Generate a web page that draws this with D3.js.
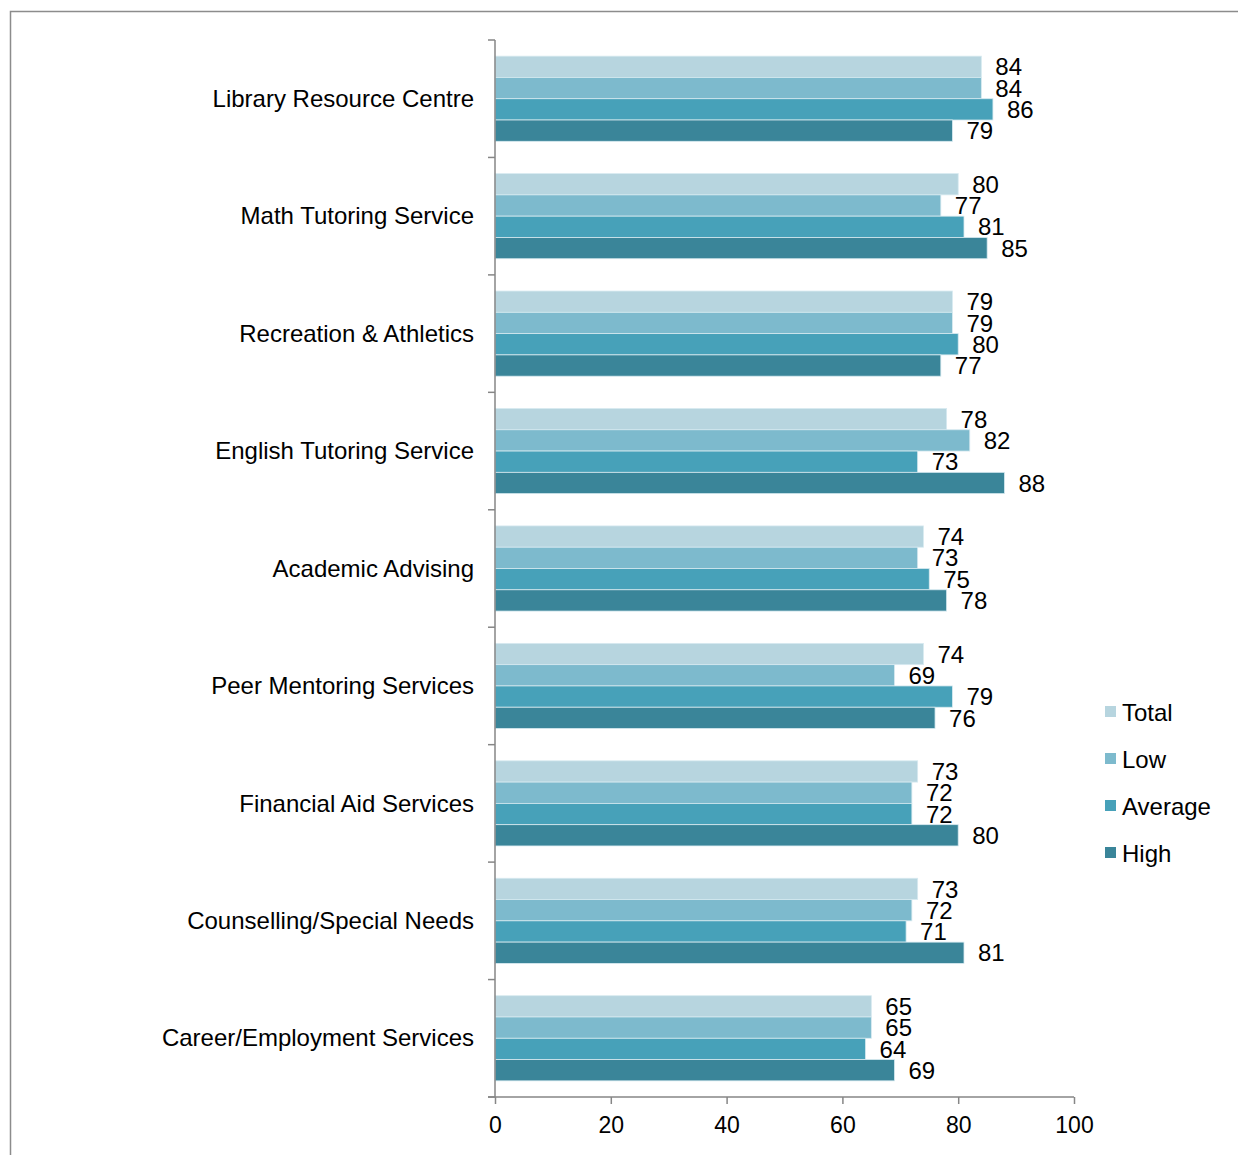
<!DOCTYPE html>
<html>
<head>
<meta charset="utf-8">
<script src="https://cdn.jsdelivr.net/npm/d3@7"></script>
<style>
  html, body { margin: 0; padding: 0; background: #fff; }
  svg { display: block; font-family: "Liberation Sans", Arial, sans-serif; }
</style>
</head>
<body>
<svg id="chart" width="1238" height="1155"></svg>
<script>
// Satisfaction by service, broken out by group
const categories = [
  "Library Resource Centre",
  "Math Tutoring Service",
  "Recreation & Athletics",
  "English Tutoring Service",
  "Academic Advising",
  "Peer Mentoring Services",
  "Financial Aid Services",
  "Counselling/Special Needs",
  "Career/Employment Services"
];
const seriesNames = ["Total", "Low", "Average", "High"];
const totalValues   = [84, 80, 79, 78, 74, 74, 73, 73, 65];
const lowValues     = [84, 77, 79, 82, 73, 69, 72, 72, 65];
const averageValues = [86, 81, 80, 73, 75, 79, 72, 71, 64];
const highValues    = [79, 85, 77, 88, 78, 76, 80, 81, 69];
const xTicks = [0, 20, 40, 60, 80, 100];

const seriesValues = [totalValues, lowValues, averageValues, highValues];
const colors = ["#b7d5df", "#7dbacd", "#47a1b9", "#3a8599"];

const svg = d3.select("#chart");
const plotLeft = 495, plotRight = 1074, plotTop = 40, plotBottom = 1097;
const fontSize = 24;

// outer frame
svg.append("rect")
  .attr("x", 10.5).attr("y", 11.5)
  .attr("width", 1300).attr("height", 1300)
  .attr("fill", "none").attr("stroke", "#8c8c8c").attr("stroke-width", 1.5);

const x = d3.scaleLinear().domain([0, 100]).range([plotLeft, plotRight]);
const y = d3.scaleBand().domain(categories).range([plotTop, plotBottom]).padding(0);
const groupH = y.bandwidth() * 0.725;
const sub = d3.scaleBand().domain(seriesNames)
  .range([(y.bandwidth() - groupH) / 2, (y.bandwidth() + groupH) / 2]);

const groups = svg.append("g").selectAll("g")
  .data(categories)
  .join("g")
  .attr("transform", c => `translate(0,${y(c)})`);

seriesNames.forEach((s, si) => {
  groups.append("rect")
    .attr("x", x(0))
    .attr("y", sub(s))
    .attr("width", (c, ci) => x(seriesValues[si][ci]) - x(0))
    .attr("height", sub.bandwidth())
    .attr("fill", colors[si])
    .attr("stroke", "#d7eaf0")
    .attr("stroke-width", 0.8);

  groups.append("text")
    .attr("x", (c, ci) => x(seriesValues[si][ci]) + 14)
    .attr("y", sub(s) + sub.bandwidth() / 2)
    .attr("dy", "0.36em")
    .attr("font-size", fontSize)
    .attr("fill", "#000")
    .text((c, ci) => seriesValues[si][ci]);
});

// category labels
groups.append("text")
  .attr("x", plotLeft - 21)
  .attr("y", y.bandwidth() / 2)
  .attr("dy", "0.34em")
  .attr("text-anchor", "end")
  .attr("font-size", fontSize)
  .attr("fill", "#000")
  .text(c => c);

// y axis: line with ticks at band boundaries
const yAxis = svg.append("g");
yAxis.append("line")
  .attr("x1", plotLeft).attr("x2", plotLeft)
  .attr("y1", plotTop).attr("y2", plotBottom)
  .attr("stroke", "#868686").attr("stroke-width", 1.5);
const bounds = categories.map(c => y(c)).concat([plotBottom]);
yAxis.selectAll(".yt").data(bounds).join("line")
  .attr("x1", plotLeft - 7).attr("x2", plotLeft)
  .attr("y1", d => d).attr("y2", d => d)
  .attr("stroke", "#868686").attr("stroke-width", 1.5);

// x axis
const xAxis = svg.append("g").attr("transform", `translate(0,${plotBottom})`)
  .call(d3.axisBottom(x).tickValues(xTicks).tickSize(7).tickPadding(13).tickSizeOuter(0));
xAxis.select(".domain").attr("stroke", "#868686").attr("stroke-width", 1.5)
  .attr("d", `M${plotLeft - 7},0H${plotRight}`);
xAxis.selectAll(".tick line").attr("stroke", "#868686").attr("stroke-width", 1.5);
xAxis.selectAll(".tick text")
  .attr("font-size", 23).attr("fill", "#000")
  .attr("font-family", "'Liberation Sans', Arial, sans-serif");

// legend
const legend = svg.append("g");
const legendY = d3.scalePoint().domain(seriesNames).range([712, 853]);
seriesNames.forEach((s, i) => {
  legend.append("rect")
    .attr("x", 1105).attr("y", legendY(s) - 6)
    .attr("width", 11).attr("height", 11)
    .attr("fill", colors[i]);
  legend.append("text")
    .attr("x", 1122).attr("y", legendY(s))
    .attr("dy", "0.36em")
    .attr("font-size", fontSize).attr("fill", "#000")
    .text(s);
});
</script>
</body>
</html>
